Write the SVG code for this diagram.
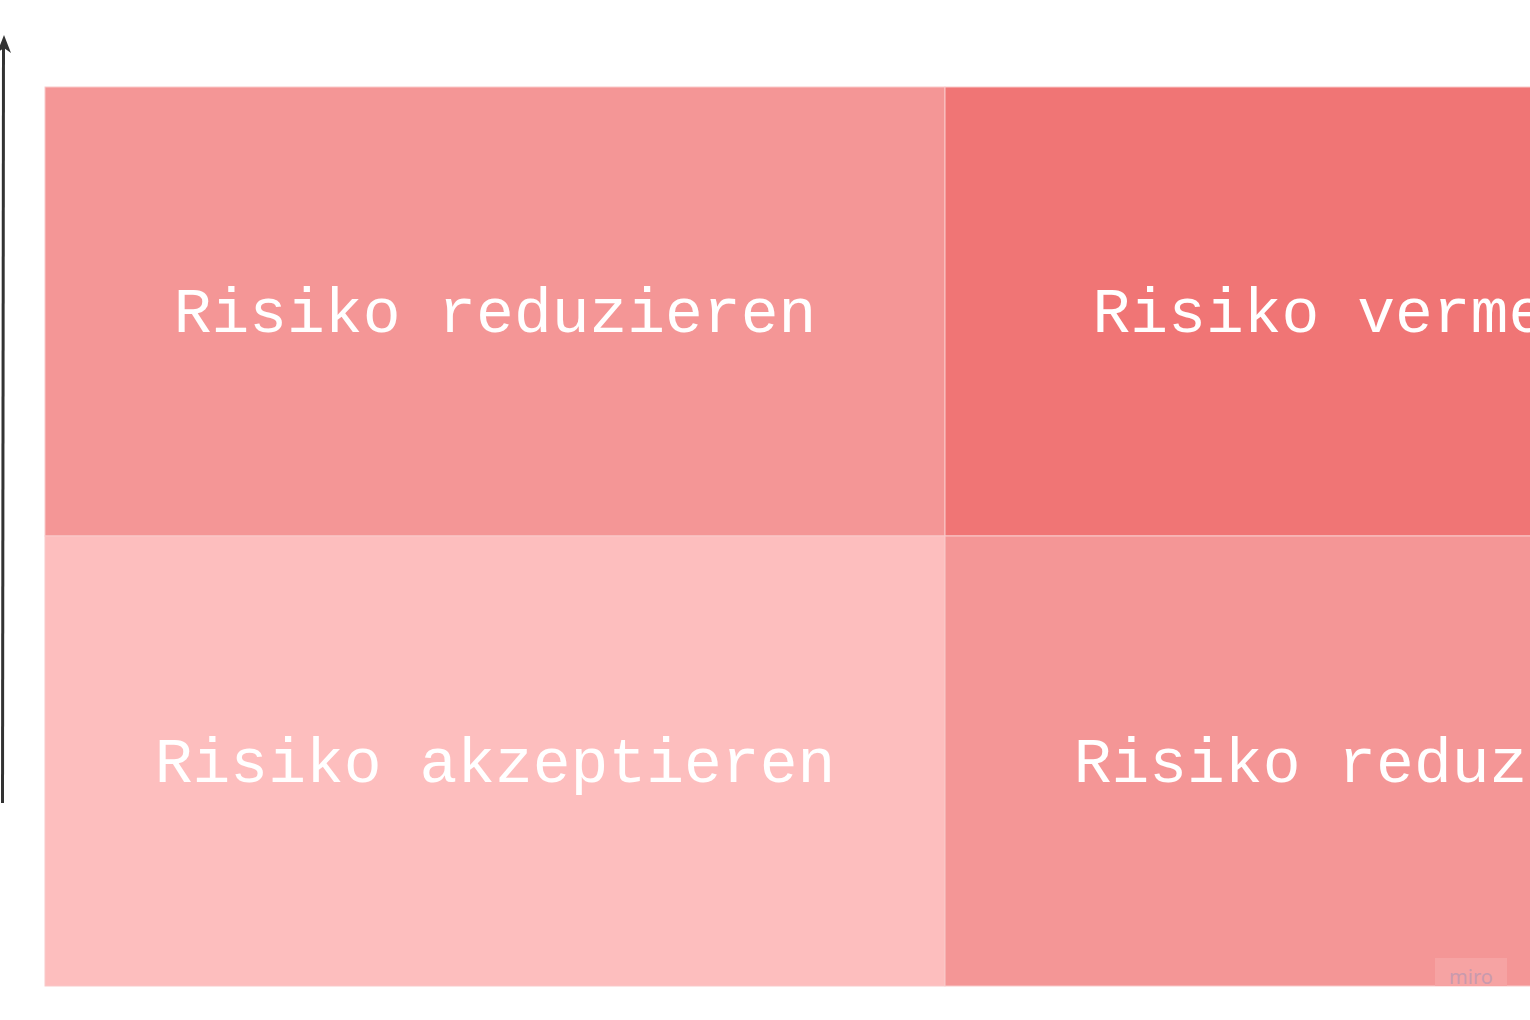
<svg xmlns="http://www.w3.org/2000/svg" width="1530" height="1020" viewBox="0 0 1530 1020">
<defs>
<style>
.cell{stroke:#f9c9c9;stroke-width:1}
.lbl{font-family:"Liberation Mono","DejaVu Sans Mono",monospace;font-size:63px;fill:#ffffff;text-anchor:middle;dominant-baseline:central}
</style>
</defs>
<rect width="1530" height="1020" fill="#ffffff"/>
<g id="connectors">
<path d="M2.5,803 L3.5,44" stroke="#333333" stroke-width="3" fill="none"/>
<path d="M4,35 L11,53 L4,48 L-3,53 Z" fill="#333333"/>
</g>
<g id="cell-top-left">
<rect class="cell" x="45" y="87" width="900" height="449" fill="#f49696"/>
<text class="lbl" x="495" y="315">Risiko reduzieren</text>
</g>
<g id="cell-top-right">
<rect class="cell" x="945" y="87" width="900" height="449" fill="#f07575"/>
<text class="lbl" x="1395" y="315">Risiko vermeiden</text>
</g>
<g id="cell-bottom-left">
<rect class="cell" x="45" y="536" width="900" height="450" fill="#fdbebe"/>
<text class="lbl" x="495" y="765">Risiko akzeptieren</text>
</g>
<g id="cell-bottom-right">
<rect class="cell" x="945" y="536" width="900" height="450" fill="#f49696"/>
<text class="lbl" x="1395" y="765">Risiko reduzieren</text>
</g>
<g id="watermark">
<rect x="1435" y="958" width="72" height="28" fill="#f6a3a3"/>
<text x="1471" y="984" font-family="'Noto Sans',sans-serif" font-size="20" fill="#c89aae" text-anchor="middle">miro</text>
</g>
</svg>
